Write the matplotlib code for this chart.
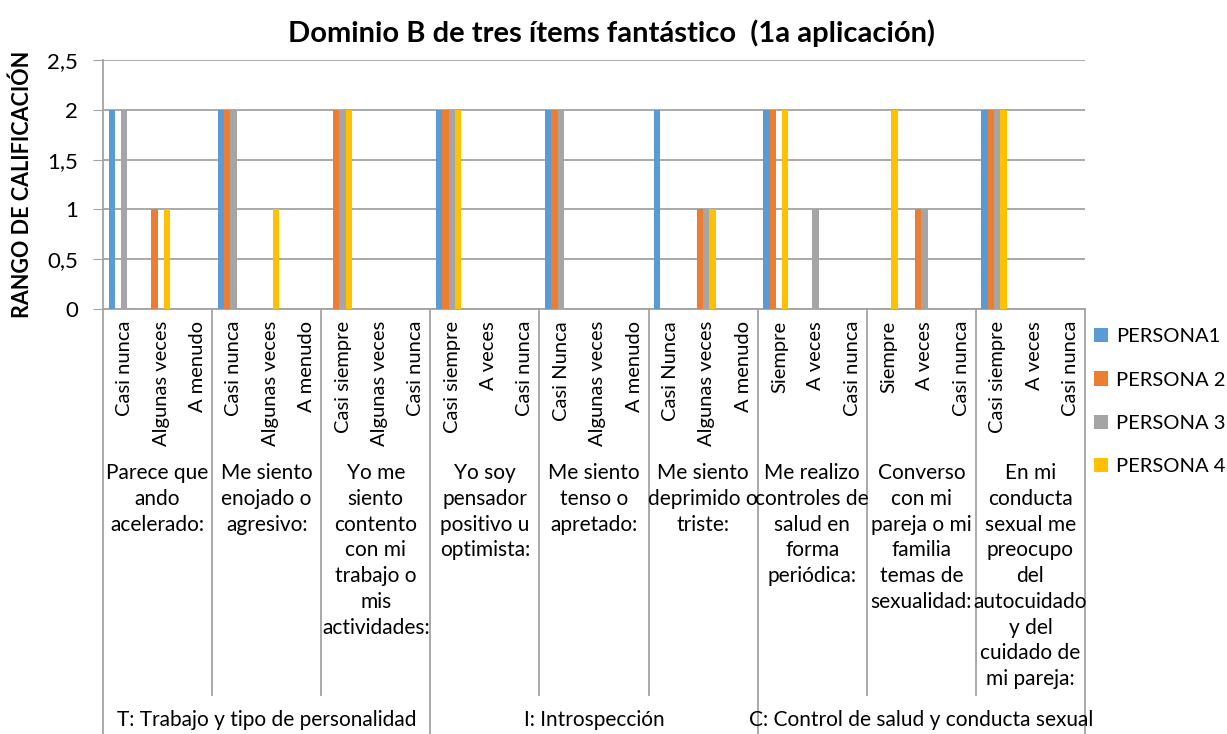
import matplotlib
matplotlib.use("Agg")
import matplotlib.pyplot as plt
import matplotlib.transforms as mtransforms
from matplotlib.patches import Patch
import numpy as np

plt.rcParams['font.family'] = ['Lato', 'DejaVu Sans']

# --- data -------------------------------------------------------------
groups = ["T: Trabajo y tipo de personalidad", "I: Introspección",
          "C: Control de salud y conducta sexual"]
questions = [
    "Parece que\nando\nacelerado:",
    "Me siento\nenojado o\nagresivo:",
    "Yo me\nsiento\ncontento\ncon mi\ntrabajo o\nmis\nactividades:",
    "Yo soy\npensador\npositivo u\noptimista:",
    "Me siento\ntenso o\napretado:",
    "Me siento\ndeprimido o\ntriste:",
    "Me realizo\ncontroles de\nsalud en\nforma\nperiódica:",
    "Converso\ncon mi\npareja o mi\nfamilia\ntemas de\nsexualidad:",
    "En mi\nconducta\nsexual me\npreocupo\ndel\nautocuidado\ny del\ncuidado de\nmi pareja:",
]
answers = [
    "Casi nunca", "Algunas veces", "A menudo",
    "Casi nunca", "Algunas veces", "A menudo",
    "Casi siempre", "Algunas veces", "Casi nunca",
    "Casi siempre", "A veces", "Casi nunca",
    "Casi Nunca", "Algunas veces", "A menudo",
    "Casi Nunca", "Algunas veces", "A menudo",
    "Siempre", "A veces", "Casi nunca",
    "Siempre", "A veces", "Casi nunca",
    "Casi siempre", "A veces", "Casi nunca",
]
series_names = ["PERSONA1", "PERSONA 2", "PERSONA 3", "PERSONA 4"]
persona1 = [2, 0, 0, 2, 0, 0, 0, 0, 0, 2, 0, 0, 2, 0, 0, 2, 0, 0, 2, 0, 0, 0, 0, 0, 2, 0, 0]
persona2 = [0, 1, 0, 2, 0, 0, 2, 0, 0, 2, 0, 0, 2, 0, 0, 0, 1, 0, 2, 0, 0, 0, 1, 0, 2, 0, 0]
persona3 = [2, 0, 0, 2, 0, 0, 2, 0, 0, 2, 0, 0, 2, 0, 0, 0, 1, 0, 0, 1, 0, 0, 1, 0, 2, 0, 0]
persona4 = [0, 1, 0, 0, 1, 0, 2, 0, 0, 2, 0, 0, 0, 0, 0, 0, 1, 0, 2, 0, 0, 2, 0, 0, 2, 0, 0]
colors = ["#5B9BD5", "#ED7D31", "#A5A5A5", "#FFC000"]
grid_c = "#A3A3A3"

W, H = 1227, 734
fig = plt.figure(figsize=(W / 100, H / 100), dpi=100)

# plot area in pixels
x0, x1, ytop, ybot = 103, 1085, 60, 309
ax = fig.add_axes([x0 / W, 1 - ybot / H, (x1 - x0) / W, (ybot - ytop) / H])

n = len(answers)
xc = np.arange(n) + 0.5
bw = 0.173
for k, vals in enumerate([persona1, persona2, persona3, persona4]):
    ax.bar(xc + (k - 1.5) * bw, vals, width=bw, color=colors[k], zorder=3)

ax.set_xlim(0, n)
ax.set_ylim(0, 2.5)
ax.set_yticks(np.arange(0, 2.51, 0.5))
ax.set_yticklabels(["0", "0,5", "1", "1,5", "2", "2,5"], fontsize=16)
ax.tick_params(axis='y', length=7, color=grid_c, pad=11)
ax.set_xticks([])
ax.grid(axis='y', color=grid_c, linewidth=1.3, zorder=0)
for s in ["top", "right"]:
    ax.spines[s].set_visible(False)
for s in ["left", "bottom"]:
    ax.spines[s].set_color(grid_c)
    ax.spines[s].set_linewidth(1.3)

ax.set_ylabel("RANGO DE CALIFICACIÓN", fontsize=15.5, fontweight='bold', labelpad=10)
fig.text(611 / W, 1 - 33 / H, "Dominio B de tres ítems fantástico  (1a aplicación)",
         ha='center', va='center', fontsize=21, fontweight='bold')

# --- multi-level category axis -----------------------------------------
tr = mtransforms.blended_transform_factory(ax.transData, fig.transFigure)

def fy(py):
    return 1 - py / H

for i, lab in enumerate(answers):
    ax.text(i + 0.6, fy(321), lab, transform=tr, rotation=90, ha='center', va='top',
            fontsize=14.5, clip_on=False)

for q, lab in enumerate(questions):
    ax.text(3 * q + 1.5, fy(463), lab, transform=tr, ha='center', va='top',
            fontsize=15, linespacing=1.36, clip_on=False)

for g, lab in enumerate(groups):
    ax.text(9 * g + 4.5, fy(720), lab, transform=tr, ha='center', va='center',
            fontsize=15, clip_on=False)

for b in range(0, n + 1, 3):
    bottom = H if b % 9 == 0 else 695
    ax.plot([b, b], [fy(ybot), fy(bottom)], transform=tr, color=grid_c,
            linewidth=1.3, clip_on=False)

handles = [Patch(facecolor=c, edgecolor='none') for c in colors]
fig.legend(handles, series_names, loc='upper left', bbox_to_anchor=(1076 / W, 1 - 310 / H),
           frameon=False, fontsize=14.5, handlelength=0.7, handleheight=0.7,
           handletextpad=0.4, labelspacing=1.3)

fig.savefig("out.png", dpi=100)
